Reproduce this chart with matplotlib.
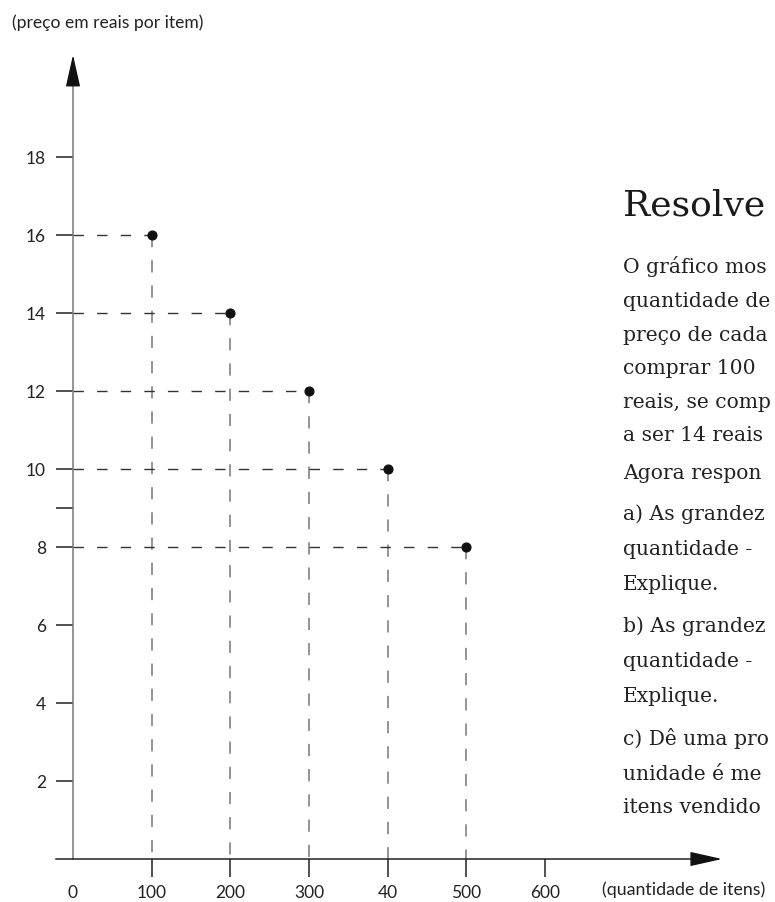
import matplotlib
matplotlib.use("Agg")
import matplotlib.pyplot as plt

# dados do gráfico
quantidades = [100, 200, 300, 400, 500]
precos = [16, 14, 12, 10, 8]
x_ticks = [0, 100, 200, 300, 400, 500, 600]
x_labels = ["0", "100", "200", "300", "40", "500", "600"]
y_ticks = [2, 4, 6, 8, 9, 10, 12, 14, 16, 18]
y_labels = ["2", "4", "6", "8", "", "10", "12", "14", "16", "18"]

# texto visível à direita (o original é cortado pela borda)
titulo = "Resolve"
linhas = [
    "O gráfico mos",
    "quantidade de",
    "preço de cada",
    "comprar 100",
    "reais, se comp",
    "a ser 14 reais",
    "Agora respon",
    "a) As grandez",
    "quantidade -",
    "Explique.",
    "b) As grandez",
    "quantidade -",
    "Explique.",
    "c) Dê uma pro",
    "unidade é me",
    "itens vendido",
]
linhas_y = [268, 302, 336, 369, 403, 436, 474, 515, 550, 585, 627, 662, 697, 740, 775, 808]

W, H = 775, 902
fig = plt.figure(figsize=(W / 100, H / 100), dpi=100)
ax = fig.add_axes([0, 0, 1, 1])
ax.patch.set_visible(False)

# escala: origem em (73, 859) px
sx = 0.7867
sy = 39.0
ax.set_xlim(-73 / sx, (W - 73) / sx)
ax.set_ylim(-(H - 859) / sy, 859 / sy)

for s in ["top", "right"]:
    ax.spines[s].set_visible(False)
ax.spines["left"].set_position(("data", 0))
ax.spines["bottom"].set_position(("data", 0))
ax.spines["left"].set_bounds(0, 19.95)
ax.spines["bottom"].set_bounds(-21.6, 790)
ax.spines["left"].set_color("#777777")
ax.spines["bottom"].set_color("#222222")
ax.spines["left"].set_linewidth(1.1)
ax.spines["bottom"].set_linewidth(1.1)

# setas dos eixos
ax.annotate("", xy=(0, 20.62), xytext=(0, 19.9),
            arrowprops=dict(arrowstyle="-|>,head_length=2.0,head_width=0.45",
                            color="#111111", lw=1, shrinkA=0, shrinkB=0, mutation_scale=10))
ax.annotate("", xy=(825, 0), xytext=(789, 0),
            arrowprops=dict(arrowstyle="-|>,head_length=2.0,head_width=0.45",
                            color="#111111", lw=1, shrinkA=0, shrinkB=0, mutation_scale=10))

fonte_sans = ["Lato", "DejaVu Sans"]
ax.set_xticks(x_ticks)
ax.set_xticklabels(x_labels, fontfamily=fonte_sans, fontsize=12.5, color="#222222")
ax.set_yticks(y_ticks)
ax.set_yticklabels(y_labels, fontfamily=fonte_sans, fontsize=12.5, color="#222222")
ax.tick_params(axis="x", direction="out", length=13, width=1.1, color="#222222", pad=5.5)
ax.tick_params(axis="y", direction="out", length=12.5, width=1.1, color="#222222", pad=7)
ax.xaxis.get_major_ticks()[0].tick1line.set_visible(False)

# linhas tracejadas e pontos
for q, p in zip(quantidades, precos):
    ax.plot([0, q], [p, p], color="#333333", lw=1.0, dashes=(7.5, 9.5))
    ax.plot([q, q], [p, 0], color="#777777", lw=1.1, dashes=(8, 8.5))
ax.plot(quantidades, precos, "o", color="#111111", markersize=6.3, zorder=5)

fig.text(12 / W, 1 - 23 / H, "(preço em reais por item)", fontfamily=fonte_sans,
         fontsize=12.6, color="#222222", va="center", ha="left")
fig.text(602 / W, 1 - 890 / H, "(quantidade de itens)", fontfamily=fonte_sans,
         fontsize=12.8, color="#222222", va="center", ha="left")

fig.text(623 / W, 1 - 215 / H, titulo, fontfamily="DejaVu Serif", fontsize=26,
         color="#1a1a1a", va="baseline", ha="left")
for linha, y in zip(linhas, linhas_y):
    fig.text(623 / W, 1 - (y + 5) / H, linha, fontfamily="DejaVu Serif", fontsize=14.6,
             color="#222222", va="baseline", ha="left")

fig.savefig("out.png", dpi=100)
